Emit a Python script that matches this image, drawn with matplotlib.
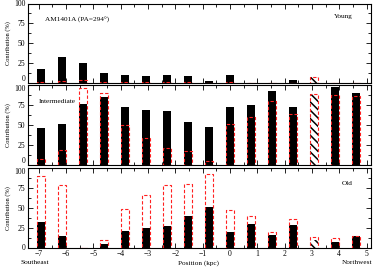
import matplotlib
matplotlib.use("Agg")
import matplotlib.pyplot as plt
from matplotlib.ticker import MultipleLocator

plt.rcParams['font.family'] = ['Liberation Serif', 'DejaVu Serif']
plt.rcParams['hatch.linewidth'] = 1.1

# positions of the bars (kpc)
positions = [-6.91, -6.14, -5.38, -4.61, -3.84, -3.07, -2.30, -1.54,
             -0.77, 0.0, 0.77, 1.54, 2.30, 3.07, 3.84, 4.61]
hatched_index = 13

# black filled bars (light fraction) and red dashed bars (mass fraction)
young_light = [17, 33, 25.5, 13, 10, 8.5, 10, 8.5, 2.5, 10, 0, 0, 4, 7.5, 0, 0]
young_mass = [1.5, 2.5, 4, 1.5, 1.5, 1, 1, 1, 0.5, 1, 0, 0, 0.5, 7.5, 0, 0]
inter_light = [46, 52, 77, 86, 73, 69, 68, 54, 48, 73, 75, 93, 73, 89, 98, 90.5]
inter_mass = [8, 19, 97, 90, 50, 34, 21, 17, 5.5, 51, 60, 80, 64.5, 89, 88.5, 86.5]
old_light = [32, 15, 0, 5, 21, 24.5, 26.5, 40, 51, 20, 30, 16, 28.5, 10, 7.5, 14]
old_mass = [90, 79, 0, 9.5, 49, 65.5, 78.5, 80.5, 93, 47, 39.5, 20, 36, 13, 12, 14]

xticks = [-7, -6, -5, -4, -3, -2, -1, 0, 1, 2, 3, 4, 5]
yticks = [0, 25, 50, 75, 100]

W, H = 374, 268
fig = plt.figure(figsize=(W / 100, H / 100), dpi=100)

left = 28 / W
width = (371 - 28) / W
panels = [(3.5, 83), (85.5, 165), (168, 247.5)]

data = [(young_light, young_mass, 'Young'),
        (inter_light, inter_mass, 'Intermediate'),
        (old_light, old_mass, 'Old')]

bw = 0.27
axes = []
for i, ((t, b), (light, mass, name)) in enumerate(zip(panels, data)):
    ax = fig.add_axes([left, 1 - b / H, width, (b - t) / H])
    axes.append(ax)
    for j, (x, l, m) in enumerate(zip(positions, light, mass)):
        if j == hatched_index:
            ax.bar(x, l, width=bw, color='white', edgecolor='black',
                   hatch='\\\\\\\\', linewidth=0, zorder=2)
        else:
            ax.bar(x, l, width=bw, color='black', linewidth=0, zorder=2)
    ax.bar(positions, mass, width=bw, fill=False, edgecolor='#ff2020',
           linewidth=0.8, linestyle=(0, (3, 1.8)), zorder=3)
    ax.set_xlim(-7.39, 5.16)
    ax.set_ylim(0, 100)
    ax.set_xticks(xticks)
    ax.set_yticks(yticks)
    ax.xaxis.set_minor_locator(MultipleLocator(0.5))
    ax.yaxis.set_minor_locator(MultipleLocator(12.5))
    ax.tick_params(which='both', direction='in', top=True, right=True,
                   labelsize=5.5, width=0.6, pad=2)
    ax.tick_params(which='major', length=3.5)
    ax.tick_params(which='minor', length=2)
    for s in ax.spines.values():
        s.set_linewidth(0.8)
    ax.set_ylabel('Contribution (%)', fontsize=4.6, labelpad=2)
    if i < 2:
        ax.tick_params(labelbottom=False)
    labels = ax.get_yticklabels()
    if i < 2:
        labels[0].set_verticalalignment('bottom')
    if i > 0:
        labels[-1].set_verticalalignment('top')

axes[0].text(-6.78, 79, 'AM1401A (PA=294°)', fontsize=5.2, va='center', ha='left')
axes[0].text(4.5, 84, 'Young', fontsize=5.2, va='center', ha='right')
axes[1].text(-6.98, 79.5, 'Intermediate', fontsize=5.2, va='center', ha='left')
axes[2].text(4.5, 80.5, 'Old', fontsize=5.2, va='center', ha='right')

fig.text(199 / W, 1 - 263 / H, 'Position (kpc)', fontsize=5.2, ha='center', va='center')
fig.text(35 / W, 1 - 263 / H, 'Southeast', fontsize=5.2, ha='center', va='center')
fig.text(357 / W, 1 - 263 / H, 'Northwest', fontsize=5.2, ha='center', va='center')

fig.savefig('out.png', dpi=100)
